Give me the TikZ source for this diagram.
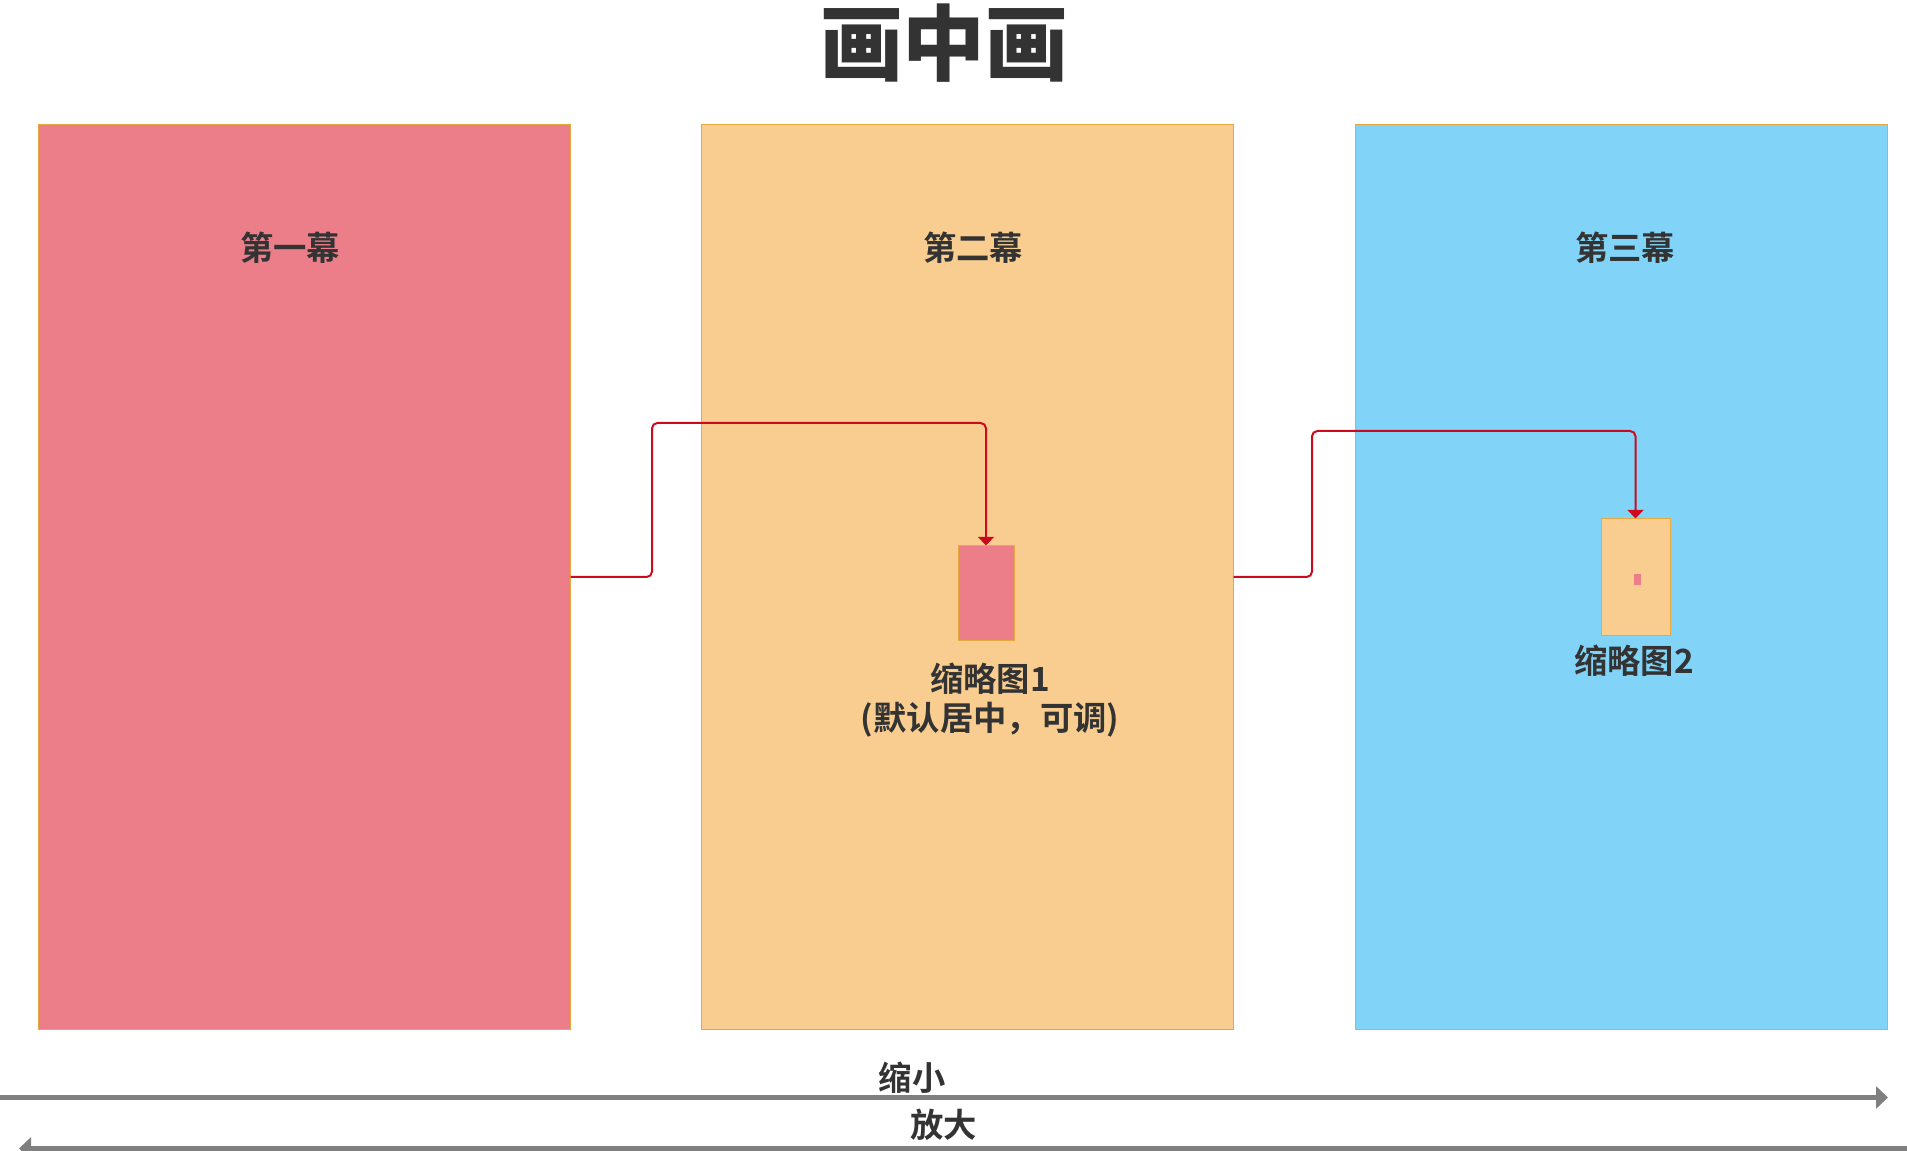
\documentclass[tikz,border=0pt]{standalone}
\usepackage{fontspec}
\usetikzlibrary{arrows.meta}
\newfontfamily\cjk{Noto Sans CJK SC}[BoldFont={Noto Sans CJK SC Bold}]
\newfontfamily\cjkheavy{Noto Sans CJK SC Black}
\definecolor{pinkf}{HTML}{EB7E89}
\definecolor{orangef}{HTML}{F8CD8F}
\definecolor{bluef}{HTML}{81D3F7}
\definecolor{edgec}{HTML}{E8A840}
\definecolor{redc}{HTML}{CC0A1E}
\definecolor{grayc}{HTML}{7F7F7F}
\definecolor{txt}{HTML}{333333}
\tikzset{
  scenebox/.style={draw=edgec, line width=0.75pt, inner sep=0pt, minimum width={532*0.75pt}, minimum height={904*0.75pt}},
  thumb/.style={draw=edgec, line width=0.75pt, inner sep=0pt},
  lbl/.style={text=txt, font=\cjk\bfseries\fontsize{25pt}{29pt}\selectfont, inner sep=0pt, align=center},
  conn/.style={draw=redc, line width=1.5pt, rounded corners=4pt, -{Triangle[length=6.5pt,width=12pt]}},
  bigarrow/.style={draw=grayc, line width=3.75pt, -{Triangle[length=9pt,width=16.5pt]}},
}
\begin{document}
\begin{tikzpicture}[x=0.75pt, y=-0.75pt]
\useasboundingbox (0,0) rectangle (1907,1151);
\node[text=txt, font=\cjkheavy\fontsize{62pt}{66pt}\selectfont, inner sep=0pt] (title) at (944,43) {画中画};
\node[scenebox, fill=pinkf] (b1) at (304,577) {};
\node[scenebox, fill=orangef] (b2) at (967,577) {};
\node[scenebox, fill=bluef] (b3) at (1621,577) {};
\node[lbl] (l1) at (290,248) {第一幕};
\node[lbl] (l2) at (973,248) {第二幕};
\node[lbl] (l3) at (1625,248) {第三幕};
\node[thumb, fill=pinkf, minimum width={56*0.75pt}, minimum height={94*0.75pt}] (t1) at (986,593) {};
\node[thumb, fill=orangef, minimum width={69*0.75pt}, minimum height={117*0.75pt}] (t2) at (1635.5,577.5) {};
\node[fill=pinkf, inner sep=0pt, minimum width={7*0.75pt}, minimum height={11*0.75pt}] (t3) at (1637.5,579.5) {};
\node[lbl] (tl1) at (990,700) {缩略图1\\(默认居中，可调)};
\node[lbl] (tl2) at (1634,661) {缩略图2};
\coordinate (c1) at (652,423);
\coordinate (c2) at (1312,431);
\draw[conn] (b1.east) -| (c1) -| (t1.north);
\draw[conn] (b2.east) -| (c2) -| (t2.north);
\coordinate (a1s) at (0,1097.5);
\coordinate (a1e) at (1888,1097.5);
\coordinate (a2s) at (1907,1148.5);
\coordinate (a2e) at (19,1148.5);
\draw[bigarrow] (a1s) -- (a1e);
\draw[bigarrow] (a2s) -- (a2e);
\node[lbl] (s1) at (912,1078) {缩小};
\node[lbl] (s2) at (943.5,1125) {放大};
\end{tikzpicture}
\end{document}
